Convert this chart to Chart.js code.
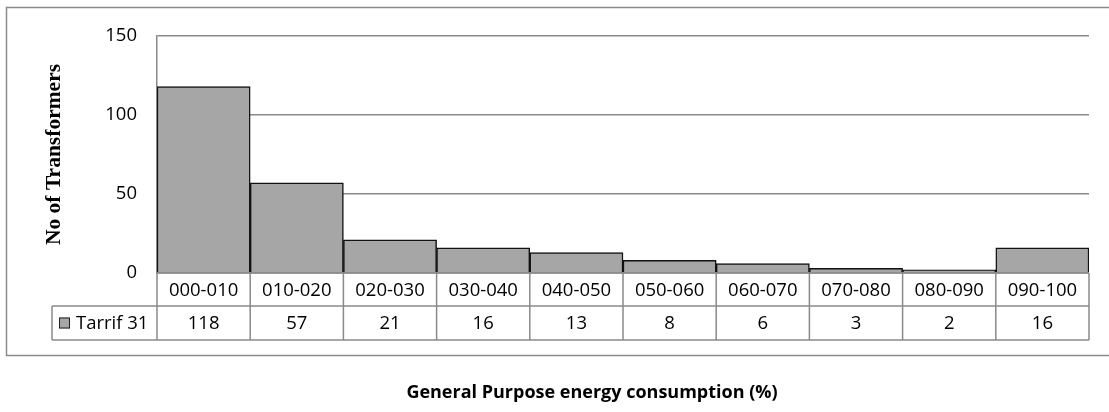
<!DOCTYPE html>
<html>
<head>
<meta charset="utf-8">
<script src="https://cdn.jsdelivr.net/npm/chart.js@4.4.1/dist/chart.umd.min.js"></script>
<style>
  html, body { margin: 0; padding: 0; background: #fff; }
  #wrap { width: 1109px; height: 412px; position: relative; }
</style>
</head>
<body>
<div id="wrap"><canvas id="chart" width="1109" height="412"></canvas></div>
<script>
// data
const categories = ['000-010', '010-020', '020-030', '030-040', '040-050',
                    '050-060', '060-070', '070-080', '080-090', '090-100'];
const seriesName = 'Tarrif 31';
const tarrif31 = [118, 57, 21, 16, 13, 8, 6, 3, 2, 16];
const yMax = 150;
const yStep = 50;
const yTitle = 'No of Transformers';
const xTitle = 'General Purpose energy consumption (%)';

const LINE = '#8a8a8a';
const BAR = '#a6a6a6';
const SANS = '"Open Sans", "Noto Sans", sans-serif';

// table under the plot + outer frame + bottom title
const tablePlugin = {
  id: 'dataTable',
  afterDraw(chart) {
    const ctx = chart.ctx;
    const x = chart.scales.x;
    const top = chart.chartArea.bottom;
    const row1 = top + 33;
    const row2 = row1 + 34;
    const legLeft = 52;
    const n = categories.length;
    const w = (x.right - x.left) / n;

    ctx.save();
    ctx.strokeStyle = LINE;
    ctx.lineWidth = 1.5;

    // outer frame
    ctx.strokeRect(6.5, 7.5, 1120, 348);

    ctx.beginPath();
    ctx.moveTo(x.left, top); ctx.lineTo(x.right, top);
    ctx.moveTo(legLeft, row1); ctx.lineTo(x.right, row1);
    ctx.moveTo(legLeft, row2); ctx.lineTo(x.right, row2);
    ctx.moveTo(legLeft, row1); ctx.lineTo(legLeft, row2);
    for (let i = 0; i <= n; i++) {
      const px = x.left + i * w;
      ctx.moveTo(px, top); ctx.lineTo(px, row2);
    }
    ctx.stroke();

    ctx.fillStyle = '#000';
    ctx.font = '18.5px ' + SANS;
    ctx.textAlign = 'center';
    ctx.textBaseline = 'middle';
    for (let i = 0; i < n; i++) {
      const cx = x.getPixelForValue(i);
      ctx.fillText(categories[i], cx, (top + row1) / 2 + 1);
      ctx.fillText(String(tarrif31[i]), cx, (row1 + row2) / 2 + 1);
    }

    // legend key
    const ky = (row1 + row2) / 2;
    ctx.fillStyle = BAR;
    ctx.fillRect(59, ky - 5.5, 11, 11);
    ctx.strokeStyle = '#222';
    ctx.lineWidth = 1;
    ctx.strokeRect(59.5, ky - 5, 10, 10);
    ctx.fillStyle = '#000';
    ctx.textAlign = 'left';
    ctx.fillText(seriesName, 76, ky + 1);

    // bottom title
    ctx.font = 'bold 18px ' + SANS;
    ctx.textAlign = 'center';
    ctx.fillText(xTitle, 592, 393);
    ctx.restore();
  }
};

new Chart(document.getElementById('chart'), {
  type: 'bar',
  data: {
    labels: categories,
    datasets: [{
      label: seriesName,
      data: tarrif31,
      backgroundColor: BAR,
      borderColor: '#111',
      borderWidth: 1.5,
      borderSkipped: 'bottom',
      categoryPercentage: 1,
      barPercentage: 1
    }]
  },
  options: {
    responsive: false,
    animation: false,
    layout: { padding: { left: 0, top: 36, right: 20, bottom: 139 } },
    plugins: {
      legend: { display: false },
      tooltip: { enabled: false }
    },
    scales: {
      x: { display: false, offset: true },
      y: {
        min: 0,
        max: yMax,
        afterFit(scale) { scale.width = 157; },
        ticks: {
          stepSize: yStep,
          padding: 20,
          color: '#000',
          font: { family: SANS, size: 18.5 }
        },
        grid: { color: LINE, lineWidth: 1.5, drawTicks: false },
        border: { display: true, color: LINE, width: 1.5 },
        title: {
          display: true,
          text: yTitle,
          color: '#000',
          font: { family: '"Liberation Serif", "Times New Roman", serif', size: 21.5, weight: 'bold' },
          padding: { top: 42, bottom: 0 }
        }
      }
    }
  },
  plugins: [tablePlugin]
});
</script>
</body>
</html>
